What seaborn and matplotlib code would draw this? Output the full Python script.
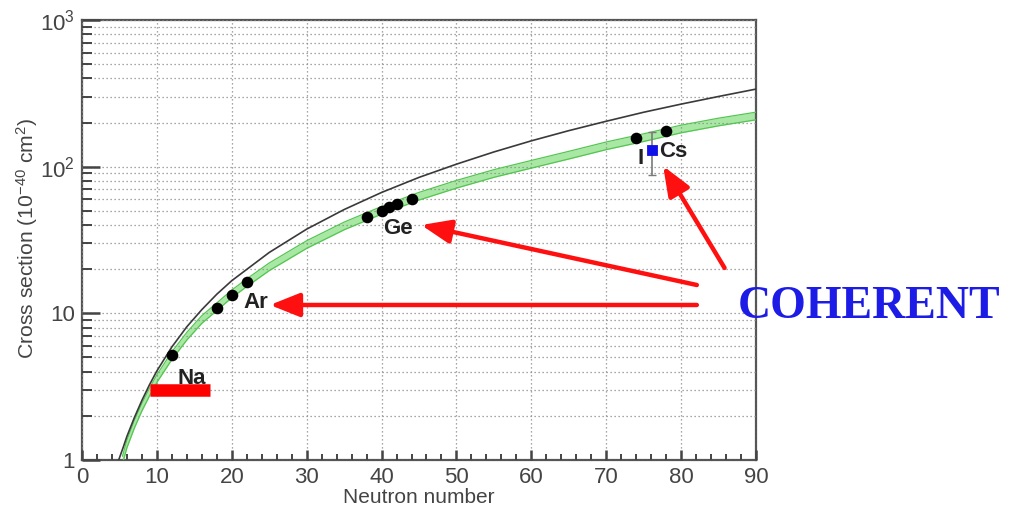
import numpy as np
import pandas as pd
import matplotlib
matplotlib.use("Agg")
import matplotlib.pyplot as plt
import seaborn as sns
from matplotlib.ticker import FixedLocator, FixedFormatter, LogLocator, NullFormatter, MultipleLocator

# ---------------- data ----------------
black_N = [4.9, 5.5, 6, 7, 8, 9, 10, 12, 14, 16, 18, 20, 25, 30, 35, 40, 45, 50,
           55, 60, 65, 70, 75, 80, 85, 90]
black_sigma = [1.0, 1.22, 1.45, 1.95, 2.55, 3.25, 4.05, 5.9, 8.1, 10.6, 13.5, 16.7,
               26, 37.5, 51, 66.7, 84.5, 104, 126, 150, 176, 204, 235, 267, 301, 338]

green_N = [5.4, 6, 7, 8, 9, 10, 12, 14, 16, 18, 20, 22, 25, 30, 35, 40, 45, 50,
           55, 60, 65, 70, 75, 80, 85, 90]
green_sigma = [1.0, 1.29, 1.76, 2.3, 2.9, 3.6, 5.15, 7.0, 9.1, 11.1, 13.6, 16.2,
               20.8, 29.5, 39.5, 50.5, 63, 76, 90, 104, 120, 139, 158, 181, 202, 222]
green_rel_unc = 0.06

iso_N = [12, 18, 20, 22, 38, 40, 41, 42, 44, 74, 78]
iso_sigma = [5.2, 10.9, 13.3, 16.4, 45.1, 50.0, 53.0, 55.6, 60.5, 157, 175]

meas_N = [76.1]
meas_sigma = [130]
meas_lo = [88]
meas_hi = [173]

labels = ["Na", "Ar", "Ge", "I", "Cs"]
label_N = [14.7, 23.2, 42.2, 74.6, 79.0]
label_sigma = [3.62, 11.9, 38.1, 114.5, 126]

na_bar_N = [9.1, 17.1]
na_bar_sigma = [3.0, 3.0]

ytick_vals = [1, 10, 100, 1000]
ytick_labels = ["1", "10", r"$\mathregular{10^{2}}$", r"$\mathregular{10^{3}}$"]

# ---------------- styling ----------------
sns.set_theme(style="ticks")
plt.rcParams["font.family"] = ["Liberation Sans", "DejaVu Sans"]
plt.rcParams["mathtext.fontset"] = "custom"
plt.rcParams["mathtext.rm"] = "Liberation Sans"
plt.rcParams["mathtext.it"] = "Liberation Sans:italic"
plt.rcParams["mathtext.bf"] = "Liberation Sans:bold"

fig = plt.figure(figsize=(10.10, 5.08), dpi=100)
ax = fig.add_axes([82 / 1010, 48 / 508, (756 - 82) / 1010, (460 - 20) / 508])

ax.set_yscale("log")
ax.set_xlim(0, 90)
ax.set_ylim(1, 1000)

# grid
grid_kw = dict(color="#8a8a8a", linestyle=(0, (1, 2.2)), linewidth=0.9)
ax.xaxis.set_major_locator(MultipleLocator(10))
ax.xaxis.set_minor_locator(MultipleLocator(2))
ax.yaxis.set_major_locator(FixedLocator(ytick_vals))
ax.yaxis.set_major_formatter(FixedFormatter(ytick_labels))
ax.yaxis.set_minor_locator(LogLocator(base=10, subs=np.arange(2, 10)))
ax.yaxis.set_minor_formatter(NullFormatter())
ax.grid(True, which="major", axis="both", **grid_kw)
ax.grid(True, which="minor", axis="y", **grid_kw)

# green band
gN = np.array(green_N)
gS = np.array(green_sigma)
ax.fill_between(gN, gS * (1 - green_rel_unc), gS * (1 + green_rel_unc),
                color="#a0e69a", alpha=0.9, linewidth=0, zorder=2)
sns.lineplot(x=gN, y=gS * (1 - green_rel_unc), ax=ax, color="#55c552", lw=0.9, zorder=3)
sns.lineplot(x=gN, y=gS * (1 + green_rel_unc), ax=ax, color="#55c552", lw=0.9, zorder=3)

# black curve
sns.lineplot(x=black_N, y=black_sigma, ax=ax, color="#3a3a3a", lw=1.2, zorder=4)

# isotopes
sns.scatterplot(x=iso_N, y=iso_sigma, ax=ax, color="black", s=70, edgecolor="black",
                linewidth=0, zorder=6, legend=False)

# measurement
ax.errorbar(meas_N, meas_sigma,
            yerr=[[meas_sigma[0] - meas_lo[0]], [meas_hi[0] - meas_sigma[0]]],
            fmt="none", ecolor="#7a7a7a", elinewidth=1.2, capsize=3, zorder=6)
sns.scatterplot(x=meas_N, y=meas_sigma, ax=ax, marker="s", color="#1010e8", s=55,
                edgecolor="#1010e8", zorder=7, legend=False)

# labels
for t, xn, ys in zip(labels, label_N, label_sigma):
    ax.text(xn, ys, t, fontsize=16, fontweight="bold", color="#222222",
            ha="center", va="center", zorder=8)

# Na red bar
ax.plot(na_bar_N, na_bar_sigma, color="#ff0000", lw=9, solid_capstyle="butt", zorder=8)

# red arrows
arrow_kw = dict(arrowstyle="-|>,head_length=1.5,head_width=0.6", color="#ff1010",
                lw=3.2, shrinkA=0, shrinkB=0)
arrows = [((85.8, 20.4), (77.6, 101)),
          ((82.1, 15.6), (45.3, 40.0)),
          ((82.1, 11.4), (25.1, 11.4))]
for (xs, ys), (xe, ye) in arrows:
    ax.annotate("", xy=(xe, ye), xytext=(xs, ys), arrowprops=arrow_kw,
                annotation_clip=False, zorder=9)

fig.text(738 / 1010, (508 - 307) / 508, "COHERENT", color="#1c1ce6",
         fontsize=33, fontweight="bold", family=["Liberation Serif", "DejaVu Serif"],
         ha="left", va="center")

# axes appearance
for side in ["left", "bottom", "right", "top"]:
    ax.spines[side].set_visible(True)
    ax.spines[side].set_color("#555555")
    ax.spines[side].set_linewidth(1.6)
ax.xaxis.set_zorder(2.5)
ax.yaxis.set_zorder(2.5)
ax.tick_params(axis="both", which="both", direction="in", color="#444444",
               bottom=True, left=True, top=False, right=False)
ax.tick_params(axis="x", which="major", length=7, width=1.8)
ax.tick_params(axis="x", which="minor", length=4.5, width=1.4)
ax.tick_params(axis="y", which="major", length=13, width=1.8)
ax.tick_params(axis="y", which="minor", length=7.5, width=1.4)
ax.tick_params(axis="both", which="major", labelsize=16, labelcolor="#444444", pad=5)

ax.set_xlabel("Neutron number", fontsize=15, color="#444444", labelpad=0)
ax.set_ylabel(r"Cross section (10$^{-40}$ cm$^{2}$)", fontsize=15.2, color="#444444")
ax.yaxis.set_label_coords(-0.062, 0.503)

fig.savefig("out.png", dpi=100)
